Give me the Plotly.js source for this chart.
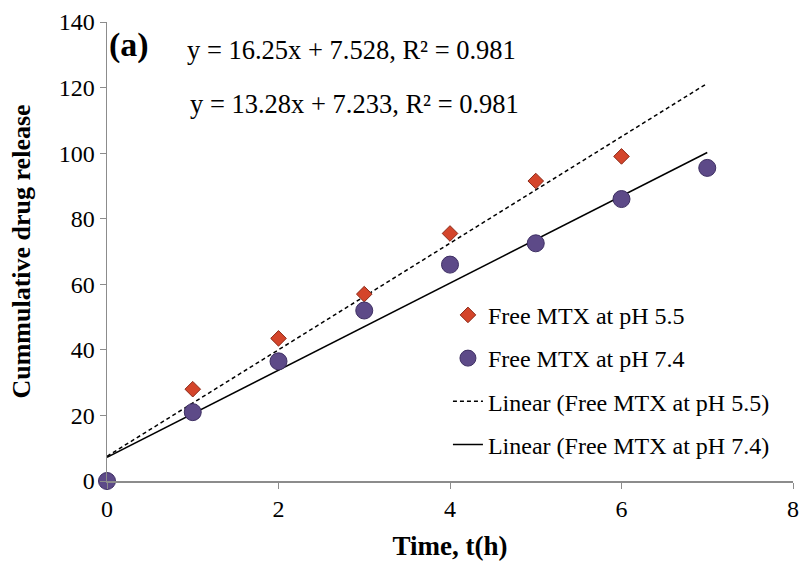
<!DOCTYPE html>
<html>
<head>
<meta charset="utf-8">
<script src="https://cdn.plot.ly/plotly-3.0.1.min.js"></script>
<style>html,body{margin:0;padding:0;background:#fff;}#chart{width:800px;height:563px;}</style>
</head>
<body>
<div id="chart"></div>
<script>
// Data
const timeAcid = [1, 2, 3, 4, 5, 6];
const releaseAcid = [28, 43.5, 57, 75.5, 91.5, 99];
const timeNeutral = [0, 1, 2, 3, 4, 5, 6, 7];
const releaseNeutral = [0, 21, 36.5, 52, 66, 72.5, 86, 95.5];
const fitRange = [0, 7];
const fitAcid = {slope: 16.25, intercept: 7.528, r2: 0.981};
const fitNeutral = {slope: 13.28, intercept: 7.233, r2: 0.981};
const seriesNames = ["Free MTX at pH 5.5", "Free MTX at pH 7.4", "Linear (Free MTX at pH 5.5)", "Linear (Free MTX at pH 7.4)"];

const lineY = f => fitRange.map(x => f.slope * x + f.intercept);
const font = "'Liberation Serif', 'Times New Roman', serif";

const traces = [
  {x: timeAcid, y: releaseAcid, mode: "markers", type: "scatter", name: seriesNames[0], legendgroup: "a", legendrank: 1,
   cliponaxis: false,
   marker: {symbol: "diamond", size: 12, color: "#d4452b", line: {color: "#8c2a18", width: 1}}},
  {x: timeNeutral, y: releaseNeutral, mode: "markers", type: "scatter", name: seriesNames[1], legendgroup: "b", legendrank: 2,
   cliponaxis: false,
   marker: {symbol: "circle", size: 17, color: "#5d4a88", line: {color: "#3e2f63", width: 1}}},
  {x: fitRange, y: lineY(fitAcid), mode: "lines", type: "scatter", name: seriesNames[2], legendgroup: "c", legendrank: 3,
   line: {color: "#000", width: 1.5, dash: "4px,3px"}},
  {x: fitRange, y: lineY(fitNeutral), mode: "lines", type: "scatter", name: seriesNames[3], legendgroup: "d", legendrank: 4,
   line: {color: "#000", width: 1.5}}
];
const ordered = [traces[2], traces[3], traces[0], traces[1]];

const eq = f => `y = ${f.slope}x + ${f.intercept}, R² = ${f.r2}`;

const layout = {
  width: 800, height: 563,
  margin: {l: 107, r: 7, t: 22, b: 82},
  paper_bgcolor: "#fff", plot_bgcolor: "#fff",
  font: {family: font, color: "#000", size: 20},
  showlegend: true,
  legend: {x: 0.497, y: 0.41, xanchor: "left", yanchor: "top", traceorder: "grouped", tracegroupgap: 9,
           font: {family: font, size: 24, color: "#000"}, bgcolor: "rgba(0,0,0,0)"},
  xaxis: {range: [0, 8], tickvals: [0, 2, 4, 6, 8], showgrid: false, zeroline: false,
          showline: true, linecolor: "#8c8c8c", linewidth: 1.5, ticks: "outside", ticklen: 6, tickcolor: "#8c8c8c",
          tickfont: {family: font, size: 24}, fixedrange: true,
          title: {text: "<b>Time, t(h)</b>", font: {family: font, size: 27}, standoff: 15}},
  yaxis: {range: [0, 140], tickvals: [0, 20, 40, 60, 80, 100, 120, 140], showgrid: false, zeroline: false,
          showline: true, linecolor: "#8c8c8c", linewidth: 1.5, ticks: "outside", ticklen: 6, tickcolor: "#8c8c8c",
          tickfont: {family: font, size: 24}, fixedrange: true,
          title: {text: "<b>Cummulative drug release</b>", font: {family: font, size: 26}, standoff: 20}},
  annotations: [
    {xref: "paper", yref: "paper", x: 0.0, y: 1 - (45 - 22) / 459, xanchor: "left", yanchor: "middle", showarrow: false,
     text: "<b>(a)</b>", font: {family: font, size: 34}},
    {xref: "paper", yref: "paper", x: (185 - 107) / 686, y: 1 - (50 - 22) / 459, xanchor: "left", yanchor: "middle", showarrow: false,
     text: eq(fitAcid), font: {family: font, size: 26.5}},
    {xref: "paper", yref: "paper", x: (188 - 107) / 686, y: 1 - (104 - 22) / 459, xanchor: "left", yanchor: "middle", showarrow: false,
     text: eq(fitNeutral), font: {family: font, size: 26.5}}
  ]
};

Plotly.newPlot("chart", ordered, layout, {staticPlot: true, displayModeBar: false});
</script>
</body>
</html>
